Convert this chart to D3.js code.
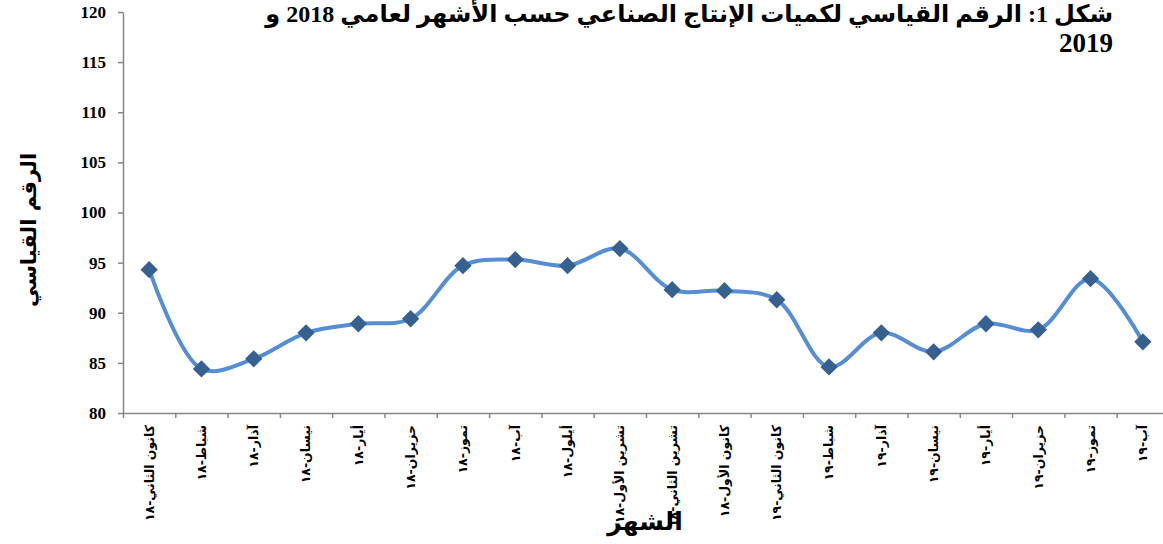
<!DOCTYPE html>
<html>
<head>
<meta charset="utf-8">
<script src="https://cdn.jsdelivr.net/npm/d3@7"></script>
<style>
  body { margin: 0; background: #fff; }
  svg { display: block; }
</style>
</head>
<body>
<div id="chart"></div>
<script>
// chart data
const months = [
  "كانون الثاني-١٨", "شباط-١٨", "آذار-١٨", "نيسان-١٨", "أيار-١٨", "حزيران-١٨",
  "تموز-١٨", "آب-١٨", "أيلول-١٨", "تشرين الأول-١٨", "تشرين الثاني-١٨", "كانون الأول-١٨",
  "كانون الثاني-١٩", "شباط-١٩", "آذار-١٩", "نيسان-١٩", "أيار-١٩", "حزيران-١٩",
  "تموز-١٩", "آب-١٩"
];
const indexValues = [94.3, 84.4, 85.4, 88.0, 88.9, 89.4, 94.7, 95.3, 94.7, 96.4,
  92.3, 92.2, 91.3, 84.6, 88.0, 86.1, 88.9, 88.3, 93.4, 87.1];
const yTicks = [80, 85, 90, 95, 100, 105, 110, 115, 120];
const titleLines = ["شكل 1: الرقم القياسي لكميات الإنتاج الصناعي حسب الأشهر لعامي 2018 و", "2019"];
const yTitle = "الرقم القياسي";
const xTitle = "الشهر";

const fullWidth = 1163;
const fullHeight = 544;
const plot = { left: 123, top: 12, bottom: 413, right: 1169 }; // right edge runs past the frame

const axisColor = "#868686";
const lineColor = "#558ed5";
const markerColor = "#35608f";
const serif = "'Liberation Serif', 'DejaVu Sans', serif";
const arabic = "'DejaVu Sans', sans-serif";

const svg = d3.select("#chart").append("svg")
    .attr("width", fullWidth)
    .attr("height", fullHeight)
    .style("background", "#fff");

const x = d3.scaleBand().domain(months).range([plot.left, plot.right]);
const xEdge = d3.scaleLinear().domain([0, months.length]).range([plot.left, plot.right]);
const y = d3.scaleLinear().domain([80, 120]).range([plot.bottom, plot.top]);

// y axis
const gY = svg.append("g")
    .attr("transform", `translate(${plot.left},0)`)
    .call(d3.axisLeft(y).tickValues(yTicks).tickSize(5).tickSizeOuter(0).tickPadding(12));
gY.select(".domain").attr("stroke", axisColor).attr("stroke-width", 1.5);
gY.selectAll(".tick line").attr("stroke", axisColor).attr("stroke-width", 1.5);
gY.selectAll(".tick text")
    .style("font-family", serif)
    .style("font-size", "17px")
    .style("font-weight", "bold")
    .attr("fill", "#000");

// x axis: ticks between the categories
const gXEdge = svg.append("g")
    .attr("transform", `translate(0,${plot.bottom})`)
    .call(d3.axisBottom(xEdge).tickValues(d3.range(months.length + 1)).tickSize(5).tickSizeOuter(0).tickFormat(""));
gXEdge.select(".domain").attr("stroke", axisColor).attr("stroke-width", 1.5);
gXEdge.selectAll(".tick line").attr("stroke", axisColor).attr("stroke-width", 1.5);

// x axis labels, turned to read top-down
const gX = svg.append("g")
    .attr("transform", `translate(0,${plot.bottom})`)
    .call(d3.axisBottom(x).tickSize(0).tickSizeOuter(0));
gX.select(".domain").remove();
gX.selectAll(".tick text")
    .attr("transform", "rotate(-90)")
    .attr("x", -12)
    .attr("y", 0)
    .attr("dy", "0.35em")
    .style("text-anchor", "end")
    .style("font-family", arabic)
    .style("font-size", "12.5px")
    .style("font-weight", "bold")
    .attr("fill", "#000");

// smoothed line
const line = d3.line()
    .x((d, i) => x(months[i]) + x.bandwidth() / 2)
    .y(d => y(d))
    .curve(d3.curveCatmullRom.alpha(0.5));

svg.append("path")
    .datum(indexValues)
    .attr("fill", "none")
    .attr("stroke", lineColor)
    .attr("stroke-width", 4)
    .attr("stroke-linejoin", "round")
    .attr("d", line);

// diamond markers
svg.selectAll(".marker")
    .data(indexValues)
    .enter().append("path")
    .attr("class", "marker")
    .attr("d", d3.symbol().type(d3.symbolSquare).size(150))
    .attr("transform", (d, i) => `translate(${x(months[i]) + x.bandwidth() / 2},${y(d)}) rotate(45)`)
    .attr("fill", markerColor);

// title
const title = svg.append("text")
    .attr("direction", "rtl")
    .attr("text-anchor", "start")
    .style("font-family", serif)
    .style("font-weight", "bold")
    .attr("fill", "#000");
title.selectAll("tspan")
    .data(titleLines)
    .enter().append("tspan")
    .attr("x", 1113)
    .attr("y", (d, i) => 22 + i * 30)
    .style("font-size", (d, i) => i === 0 ? "24px" : "27px")
    .text(d => d);

// axis titles
svg.append("text")
    .attr("transform", "translate(36,230) rotate(-90)")
    .attr("text-anchor", "middle")
    .style("font-family", arabic)
    .style("font-size", "21px")
    .style("font-weight", "bold")
    .attr("fill", "#000")
    .text(yTitle);

svg.append("text")
    .attr("x", 645)
    .attr("y", 530)
    .attr("text-anchor", "middle")
    .style("font-family", arabic)
    .style("font-size", "25px")
    .style("font-weight", "bold")
    .attr("fill", "#000")
    .text(xTitle);
</script>
</body>
</html>
